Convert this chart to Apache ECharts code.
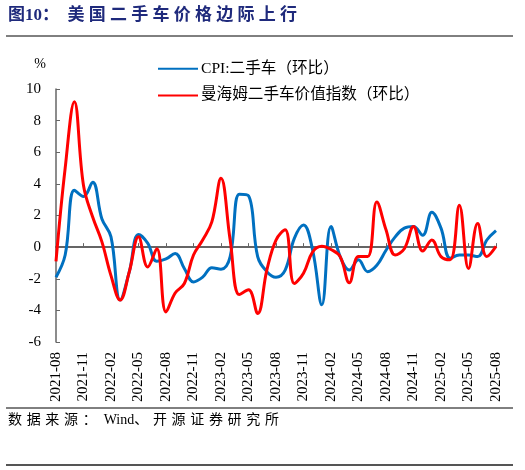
<!DOCTYPE html>
<html>
<head>
<meta charset="utf-8">
<script src="https://cdn.jsdelivr.net/npm/echarts@6/dist/echarts.min.js"></script>
<style>
  html, body { margin: 0; padding: 0; background: #fff; }
  #chart { width: 525px; height: 470px; }
</style>
</head>
<body>
<div id="chart"></div>
<script>
// 月份 2021-08 ~ 2025-08
const months = [];
for (let y = 2021, m = 8; y < 2025 || (y === 2025 && m <= 8); ) {
    months.push(y + '-' + String(m).padStart(2, '0'));
    m++;
    if (m > 12) { m = 1; y++; }
}

// CPI:二手车（环比）
const cpiUsedCar = [
    -1.9, -0.5, 3.6, 3.2, 4.1, 1.8, 0.65, -3.35, -1.55, 0.8,
    0.25, -0.9, -0.75, -0.4, -1.35, -2.2, -1.9, -1.3, -1.4, -0.6,
    3.35, 3.25, -0.6, -1.55, -1.9, -1.45, 0.55, 1.4, -0.2, -3.65,
    1.3, -0.6, -1.45, -0.8, -1.55, -1.15, -0.2, 0.65, 1.2, 1.3,
    0.75, 2.2, 1.2, -0.7, -0.5, -0.5, -0.6, 0.45, 1.05
];

// 曼海姆二手车价值指数（环比）
const manheim = [
    -0.9, 5.0, 9.2, 3.9, 1.9, 0.35, -1.8, -3.35, -1.55, 0.65,
    -1.25, -0.1, -4.1, -2.9, -2.3, -0.5, 0.45, 1.6, 4.35, 0.45,
    -3.0, -2.7, -4.2, -1.45, 0.45, 1.1, -2.3, -1.65, -0.3, 0.05,
    -0.15, -0.6, -2.25, -0.6, -0.6, 2.85, 1.1, -0.5, -0.1, 1.3,
    -0.25, 0.45, -0.6, -0.8, 2.65, -1.35, 1.5, -0.6, 0.05
];

const yTicks = [-6, -4, -2, 0, 2, 4, 6, 8, 10];

const serif = '"Liberation Serif", "Times New Roman", "Noto Sans CJK SC", serif';
const cjk = '"Liberation Serif", "Noto Sans CJK SC", serif';

// 中文字间距（宋体排版较松）
const spaced = (s, sp) => Array.from(s).join(sp);

const chart = echarts.init(document.getElementById('chart'), null, { renderer: 'canvas' });

const option = {
    backgroundColor: '#fff',
    animation: false,
    grid: { left: 56, right: 29, top: 89, bottom: 128 },
    legend: {
        orient: 'vertical',
        left: 153,
        top: 56,
        itemGap: 11,
        itemWidth: 40,
        itemHeight: 14,
        icon: 'path://M0,6 L40,6 L40,8 L0,8 Z',
        textStyle: { fontFamily: cjk, fontSize: 15.6, color: '#000', padding: [0, 0, 0, -2] },
        data: ['CPI:二手车（环比）', '曼海姆二手车价值指数（环比）']
    },
    xAxis: [{
        type: 'category',
        data: months,
        boundaryGap: false,
        position: 'bottom',
        axisLine: { show: false, onZero: false },
        axisTick: { show: false },
        axisLabel: {
            rotate: 90,
            interval: 2,
            margin: 10,
            fontFamily: serif,
            fontSize: 15,
            color: '#000'
        }
    }, {
        type: 'category',
        data: months,
        boundaryGap: false,
        position: 'bottom',
        axisLine: { show: true, onZero: true, lineStyle: { color: '#333', width: 1.5 } },
        axisTick: { show: true, inside: true, interval: 2, length: 4, lineStyle: { color: '#666' } },
        axisLabel: { show: false }
    }],
    yAxis: {
        type: 'value',
        min: -6,
        max: 10,
        interval: 2,
        name: '%',
        nameLocation: 'end',
        nameGap: 18,
        nameTextStyle: { fontFamily: serif, fontSize: 14, color: '#000', padding: [0, 32, 0, 0] },
        axisLine: { show: true, lineStyle: { color: '#666', width: 1.5 } },
        axisTick: { show: true, inside: true, length: 4, lineStyle: { color: '#666' } },
        axisLabel: {
            fontFamily: serif,
            fontSize: 15,
            color: '#000',
            margin: 15,
            formatter: v => (yTicks.includes(v) ? String(v) : '')
        },
        splitLine: { show: false }
    },
    series: [{
        name: 'CPI:二手车（环比）',
        type: 'line',
        data: cpiUsedCar,
        smooth: 0.4,
        symbol: 'none',
        lineStyle: { color: '#0070C0', width: 3 },
        itemStyle: { color: '#0070C0' }
    }, {
        name: '曼海姆二手车价值指数（环比）',
        type: 'line',
        data: manheim,
        smooth: 0.4,
        symbol: 'none',
        lineStyle: { color: '#FF0000', width: 3 },
        itemStyle: { color: '#FF0000' }
    }],
    graphic: [{
        type: 'text',
        left: 8,
        top: 7,
        style: {
            text: '图10：\u2002' + spaced('美国二手车价格边际上行', '\u2005'),
            font: 'bold 17px ' + cjk,
            fill: '#1F2A7C'
        }
    }, {
        type: 'line',
        shape: { x1: 6, y1: 36, x2: 513, y2: 36 },
        style: { stroke: '#000', lineWidth: 1 }
    }, {
        type: 'line',
        shape: { x1: 6, y1: 408, x2: 513, y2: 408 },
        style: { stroke: '#000', lineWidth: 1 }
    }, {
        type: 'text',
        left: 8,
        top: 413,
        style: {
            text: spaced('数据来源：', '\u2004') + '  Wind' + spaced('、开源证券研究所', '\u2004'),
            font: '14px ' + cjk,
            fill: '#000'
        }
    }, {
        type: 'line',
        shape: { x1: 6, y1: 465, x2: 513, y2: 465 },
        style: { stroke: '#555', lineWidth: 2 }
    }]
};

chart.setOption(option);
</script>
</body>
</html>
